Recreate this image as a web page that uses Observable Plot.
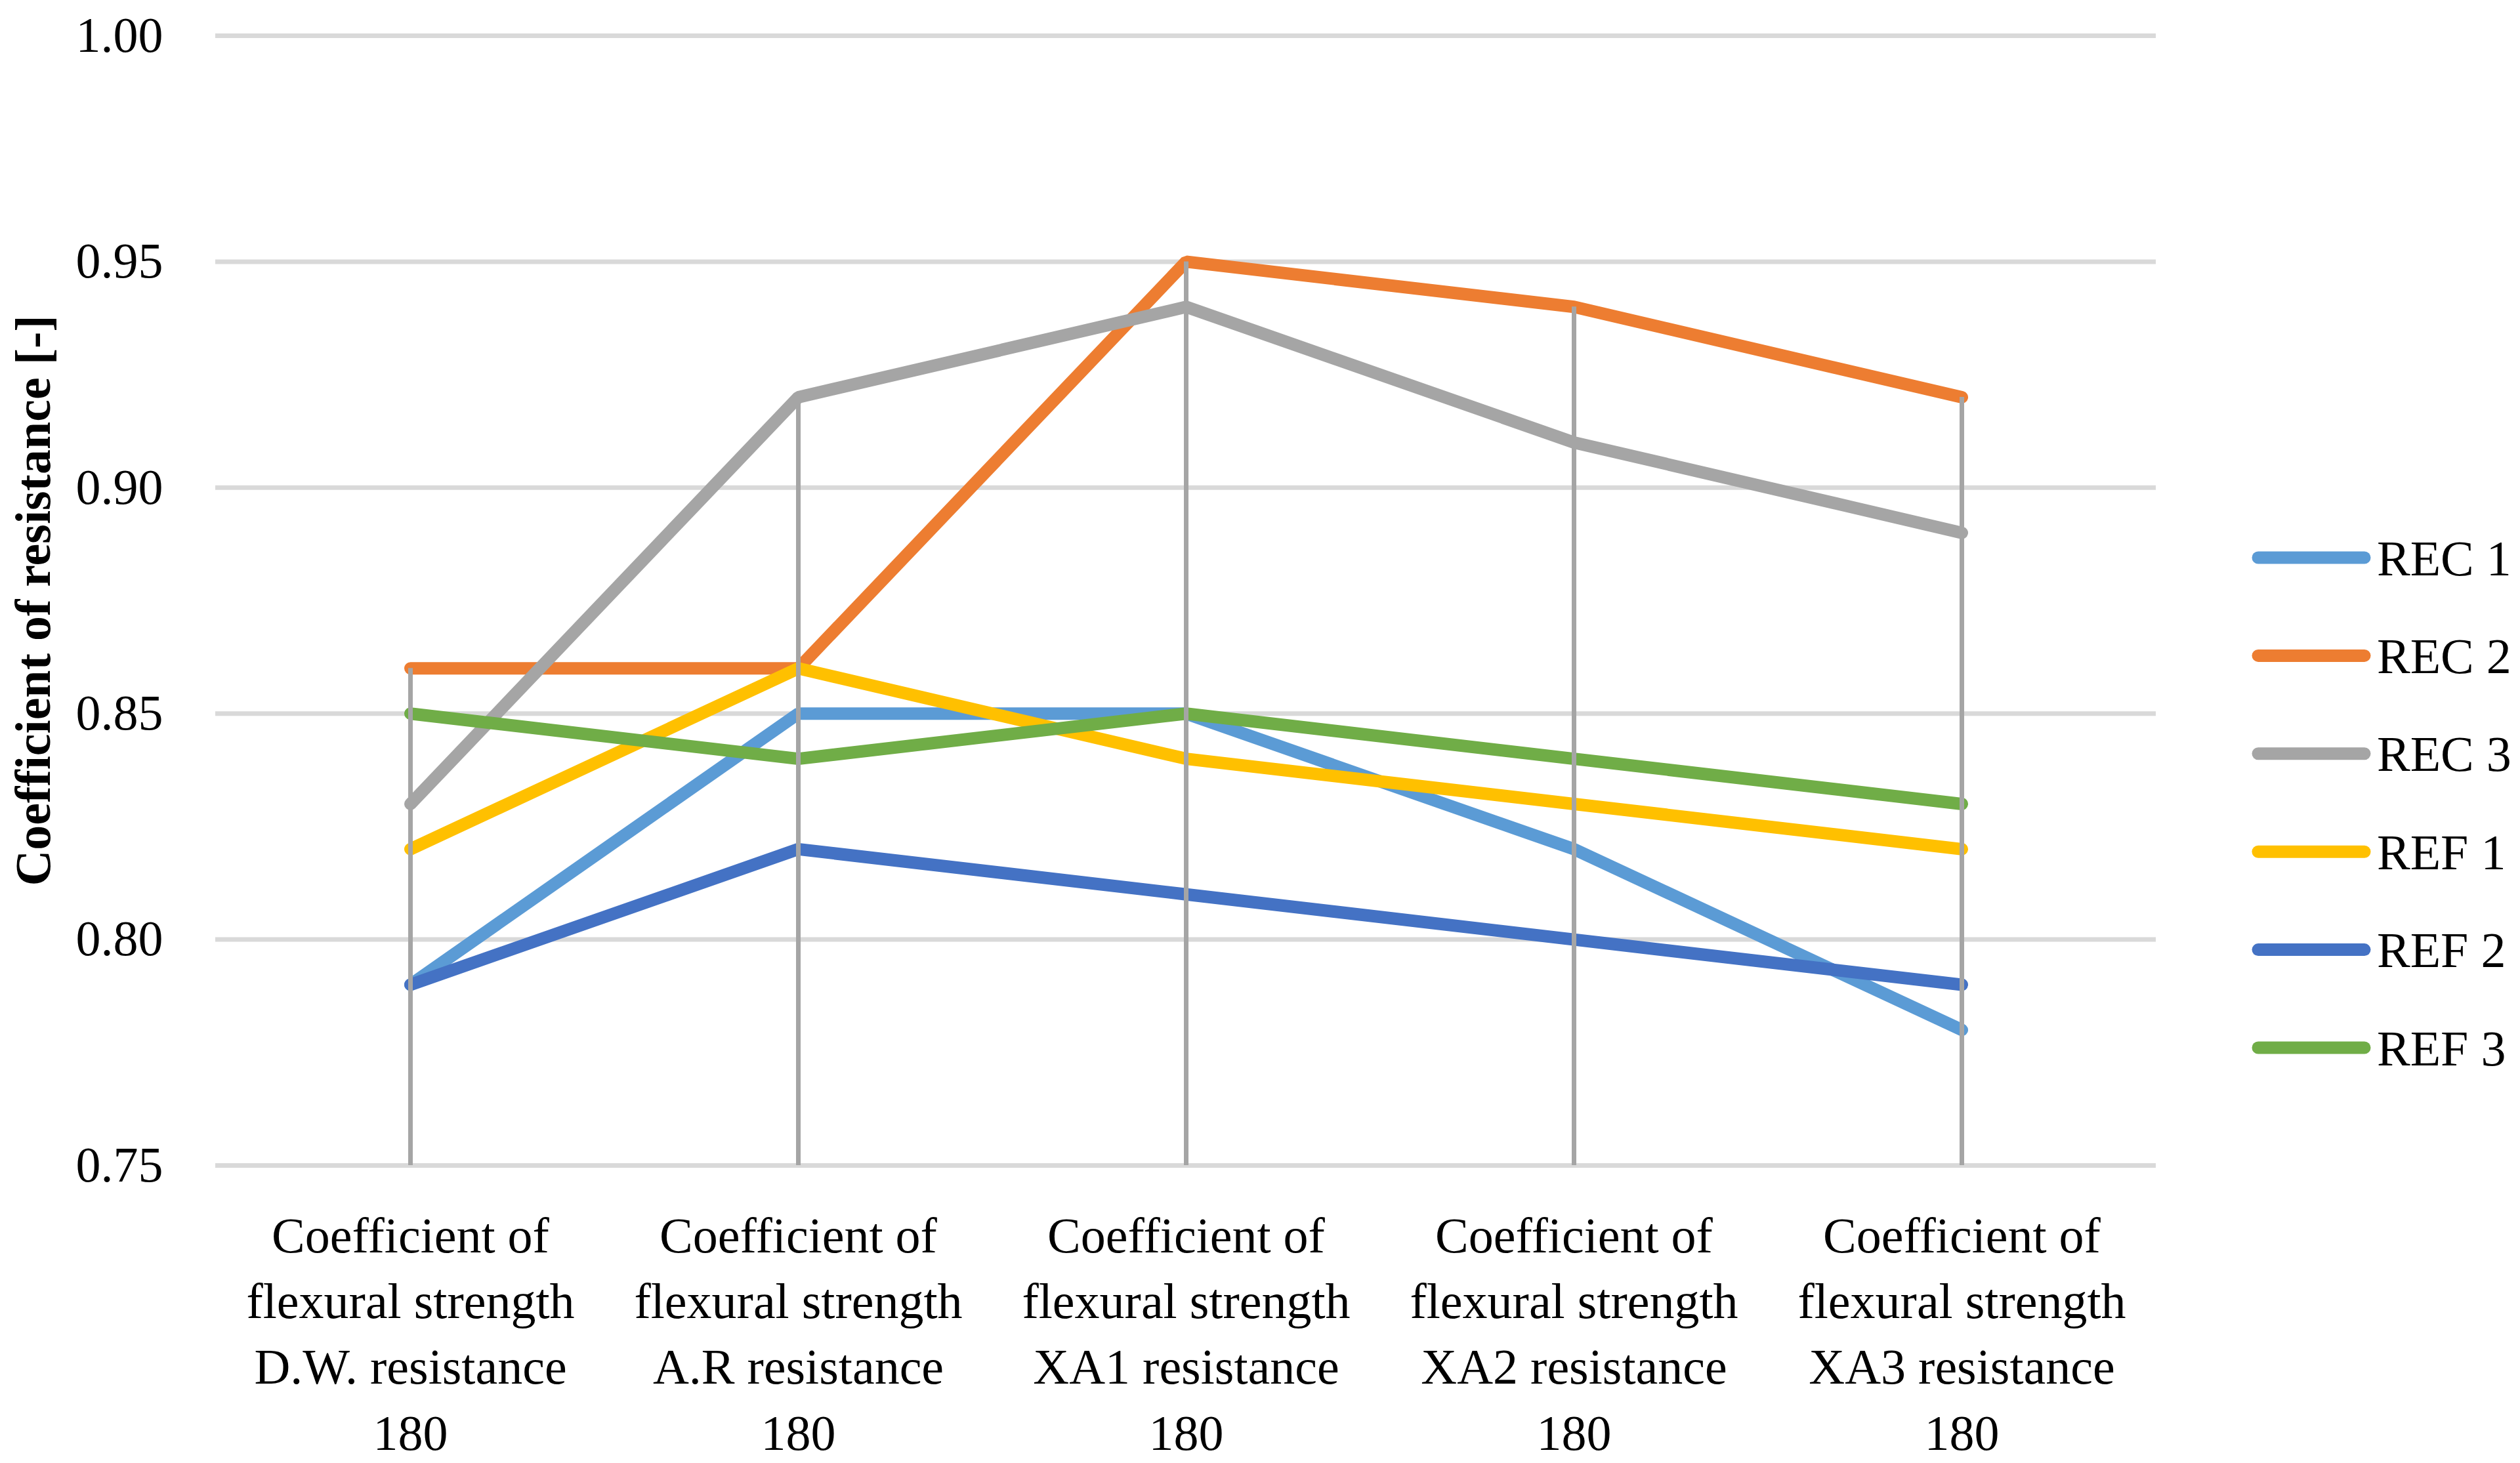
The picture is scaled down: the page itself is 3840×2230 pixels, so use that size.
<!DOCTYPE html>
<html>
<head>
<meta charset="utf-8">
<script src="https://cdn.jsdelivr.net/npm/d3@7"></script>
<script src="https://cdn.jsdelivr.net/npm/@observablehq/plot@0.6"></script>
<style>
  html, body { margin: 0; padding: 0; background: #fff; }
  #chart svg { display: block; }
</style>
</head>
<body>
<div id="chart"></div>
<script>
const categories = [
  "Coefficient of\nflexural strength\nD.W. resistance\n180",
  "Coefficient of\nflexural strength\nA.R resistance\n180",
  "Coefficient of\nflexural strength\nXA1 resistance\n180",
  "Coefficient of\nflexural strength\nXA2 resistance\n180",
  "Coefficient of\nflexural strength\nXA3 resistance\n180"
];
const seriesNames = ["REC 1", "REC 2", "REC 3", "REF 1", "REF 2", "REF 3"];
const seriesColors = ["#5b9bd5", "#ed7d31", "#a5a5a5", "#ffc000", "#4472c4", "#70ad47"];
const rec1 = [0.79, 0.85, 0.85, 0.82, 0.78];
const rec2 = [0.86, 0.86, 0.95, 0.94, 0.92];
const rec3 = [0.83, 0.92, 0.94, 0.91, 0.89];
const ref1 = [0.82, 0.86, 0.84, 0.83, 0.82];
const ref2 = [0.79, 0.82, 0.81, 0.80, 0.79];
const ref3 = [0.85, 0.84, 0.85, 0.84, 0.83];
const yTicks = [0.75, 0.80, 0.85, 0.90, 0.95, 1.00];
const yLabel = "Coefficient of resistance [-]";

const seriesValues = [rec1, rec2, rec3, ref1, ref2, ref3];
const rows = [];
seriesNames.forEach((s, si) => {
  categories.forEach((c, ci) => rows.push({series: s, category: c, value: seriesValues[si][ci]}));
});
const maxByCat = categories.map((c, ci) => d3.max(seriesValues, v => v[ci]));

const W = 3840, H = 2230;
const FONT = "'Palatino Linotype', 'Book Antiqua', Palatino, 'Liberation Serif', serif";

const plot = Plot.plot({
  width: W,
  height: H,
  marginLeft: 328,
  marginRight: 555,
  marginTop: 54,
  marginBottom: 454,
  style: {fontFamily: FONT, fontSize: "76px", color: "#000", background: "#fff"},
  x: {type: "point", domain: categories, padding: 0.5},
  y: {domain: [0.75, 1.00]},
  color: {domain: seriesNames, range: seriesColors},
  marks: [
    Plot.gridY(yTicks, {stroke: "#d9d9d9", strokeOpacity: 1, strokeWidth: 7}),
    Plot.axisY(yTicks, {tickSize: 0, tickPadding: 80, tickFormat: d3.format(".2f"), label: null, fontSize: 76}),
    Plot.axisX({tickSize: 0, tickPadding: 61, lineHeight: 1.32, label: null, fontSize: 76}),
    Plot.text([yLabel], {frameAnchor: "left", dx: -253, rotate: -90, textAnchor: "middle", lineAnchor: "bottom", fontWeight: "bold", fontSize: 76, fill: "#000"}),
    Plot.line(rows, {x: "category", y: "value", z: "series", stroke: "series", strokeWidth: 19, strokeLinejoin: "miter", strokeLinecap: "round"}),
    Plot.ruleX(categories, {x: d => d, y1: 0.75, y2: (d, i) => maxByCat[i], stroke: "#a5a5a5", strokeWidth: 7})
  ]
});
document.getElementById("chart").appendChild(plot);

// Legend (drawn into the same SVG)
const svg = d3.select(plot);
const lg = svg.append("g").attr("font-family", FONT).attr("font-size", 76).attr("text-anchor", "start");
const legY0 = 850, legStep = 149.4;
seriesNames.forEach((s, i) => {
  const y = legY0 + i * legStep;
  lg.append("line")
    .attr("x1", 3441).attr("x2", 3603).attr("y1", y).attr("y2", y)
    .attr("stroke", seriesColors[i]).attr("stroke-width", 19).attr("stroke-linecap", "round");
  lg.append("text")
    .attr("x", 3622).attr("y", y).attr("dy", "0.35em").attr("fill", "#000")
    .attr("text-anchor", "start").text(s);
});
</script>
</body>
</html>
